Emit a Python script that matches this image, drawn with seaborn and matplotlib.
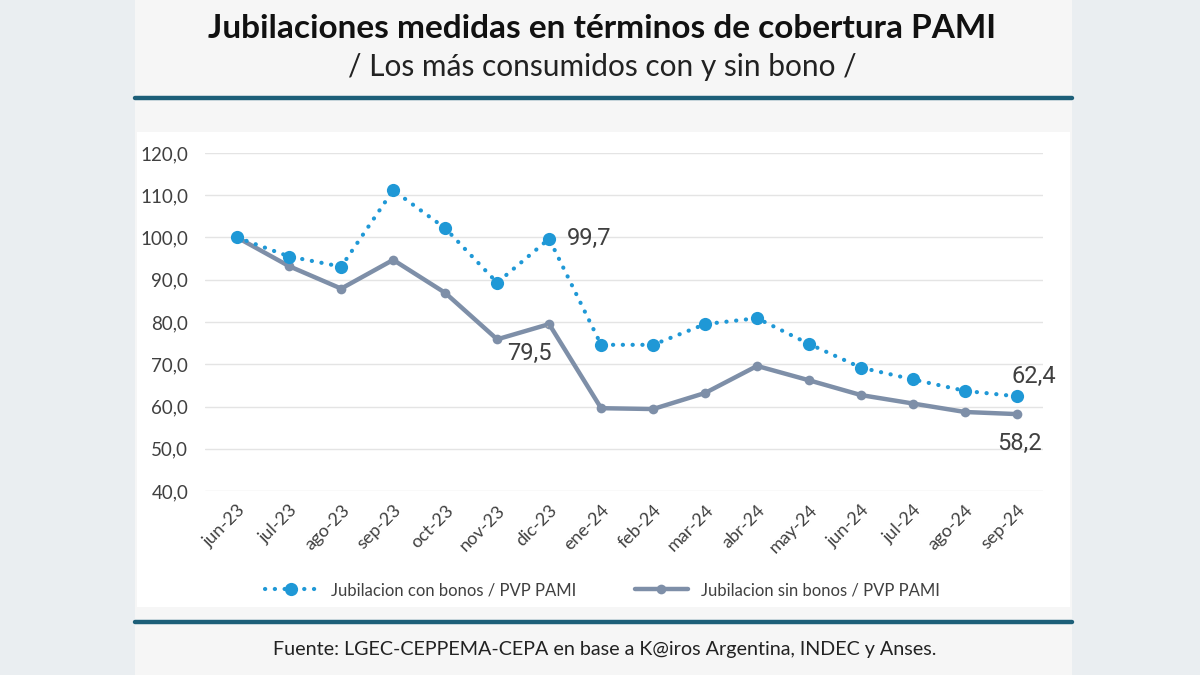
import pandas as pd
import seaborn as sns
import matplotlib.pyplot as plt
from matplotlib.patches import Rectangle
from matplotlib.lines import Line2D

# =========================
# Data
# =========================
meses = ["jun-23", "jul-23", "ago-23", "sep-23", "oct-23", "nov-23", "dic-23", "ene-24",
         "feb-24", "mar-24", "abr-24", "may-24", "jun-24", "jul-24", "ago-24", "sep-24"]
con_bonos = [100.0, 95.5, 93.1, 111.2, 102.2, 89.3, 99.7, 74.6,
             74.6, 79.5, 80.9, 74.8, 69.2, 66.4, 63.7, 62.4]
sin_bonos = [100.0, 93.2, 87.9, 94.7, 86.9, 75.9, 79.5, 59.6,
             59.4, 63.2, 69.6, 66.2, 62.7, 60.7, 58.7, 58.2]
yticks = [40, 50, 60, 70, 80, 90, 100, 110, 120]

lbl_con = "Jubilacion con bonos / PVP PAMI"
lbl_sin = "Jubilacion sin bonos / PVP PAMI"

df = pd.DataFrame({"mes": meses, "x": range(len(meses)),
                   "con": con_bonos, "sin": sin_bonos})

BLUE = "#1f98d6"
GRAY = "#7e8fa8"
TEAL = "#1d5f79"
TXT = "#404040"
HEAD = ["Lato", "DejaVu Sans"]
LBL = ["Roboto", "DejaVu Sans"]

sns.set_theme(style="white")
plt.rcParams["font.family"] = ["Lato", "DejaVu Sans"]

fig = plt.figure(figsize=(12, 6.75), dpi=100)
fig.patch.set_facecolor("#eaeef1")

# card background, white chart area and separator rules
fig.patches.append(Rectangle((135 / 1200, 0), 937 / 1200, 1, transform=fig.transFigure,
                             facecolor="#f6f6f6", edgecolor="none", zorder=-2))
fig.patches.append(Rectangle((137 / 1200, 1 - 607 / 675), 933 / 1200, 475 / 675,
                             transform=fig.transFigure, facecolor="white",
                             edgecolor="none", zorder=-1))
for yy in (98, 622):
    fig.add_artist(Line2D([135 / 1200, 1072 / 1200], [1 - yy / 675] * 2,
                          transform=fig.transFigure, color=TEAL, lw=3.2))

fig.text(0.502, 1 - 28 / 675, "Jubilaciones medidas en términos de cobertura PAMI",
         ha="center", va="center", fontsize=24, fontweight="bold",
         family=HEAD, color="#111111")
fig.text(0.502, 1 - 67 / 675, "/ Los más consumidos con y sin bono /",
         ha="center", va="center", fontsize=21.5, family=HEAD, color="#222222")
fig.text(0.504, 1 - 650 / 675,
         "Fuente: LGEC-CEPPEMA-CEPA en base a K@iros Argentina, INDEC y Anses.",
         ha="center", va="center", fontsize=14.2, family=HEAD, color="#222222")

# =========================
# Chart
# =========================
ax = fig.add_axes([205 / 1200, 1 - 491 / 675, 838 / 1200, 338 / 675])
ax.set_facecolor("white")

sns.lineplot(data=df, x="x", y="sin", ax=ax, color=GRAY, lw=3.2,
             marker="o", markersize=7, markeredgewidth=0, label=lbl_sin, zorder=3)
sns.lineplot(data=df, x="x", y="con", ax=ax, color=BLUE, lw=3,
             linestyle=(0, (0.05, 2.3)), dash_capstyle="round",
             marker="o", markersize=9.5, markeredgewidth=0, label=lbl_con, zorder=4)

ax.set_xlim(-0.62, len(meses) - 0.5)
ax.set_ylim(40, 120)
ax.set_yticks(yticks)
ax.set_yticklabels([f"{v:.1f}".replace(".", ",") for v in yticks], fontsize=13.5, color=TXT)
ax.set_xticks(df["x"])
ax.set_xticklabels(meses, rotation=45, ha="right", rotation_mode="anchor",
                   fontsize=13, color=TXT)
ax.tick_params(axis="y", length=0, pad=12)
ax.tick_params(axis="x", length=0, pad=8)
ax.grid(axis="y", color="#e4e4e4", lw=1)
ax.set_xlabel("")
ax.set_ylabel("")
sns.despine(ax=ax, left=True, bottom=True, top=True, right=True)

# data labels
i_dic = meses.index("dic-23")
last = len(meses) - 1
ax.annotate(f"{con_bonos[i_dic]:.1f}".replace(".", ","), (i_dic, con_bonos[i_dic]),
            xytext=(13, 0), textcoords="offset points", ha="left", va="center",
            fontsize=17, color=TXT, family=LBL)
ax.annotate(f"{sin_bonos[i_dic]:.1f}".replace(".", ","), (i_dic, sin_bonos[i_dic]),
            xytext=(-14, -21), textcoords="offset points", ha="center", va="center",
            fontsize=17, color=TXT, family=LBL,
            arrowprops=dict(arrowstyle="-", color="#b0b0b0", lw=1,
                            shrinkA=10, shrinkB=2))
ax.annotate(f"{con_bonos[last]:.1f}".replace(".", ","), (last, con_bonos[last]),
            xytext=(12, 14), textcoords="offset points", ha="center", va="center",
            fontsize=17, color=TXT, family=LBL)
ax.annotate(f"{sin_bonos[last]:.1f}".replace(".", ","), (last, sin_bonos[last]),
            xytext=(2, -21), textcoords="offset points", ha="center", va="center",
            fontsize=17, color=TXT, family=LBL)

handles, labels = ax.get_legend_handles_labels()
order = [labels.index(lbl_con), labels.index(lbl_sin)]
ax.legend([handles[i] for i in order], [labels[i] for i in order],
          loc="center", bbox_to_anchor=(0.502, 1 - 590 / 675),
          bbox_transform=fig.transFigure, ncol=2, frameon=False,
          fontsize=12, handlelength=3.2, columnspacing=3.5, labelcolor=TXT)

fig.savefig("out.png", dpi=100)
plt.close(fig)
